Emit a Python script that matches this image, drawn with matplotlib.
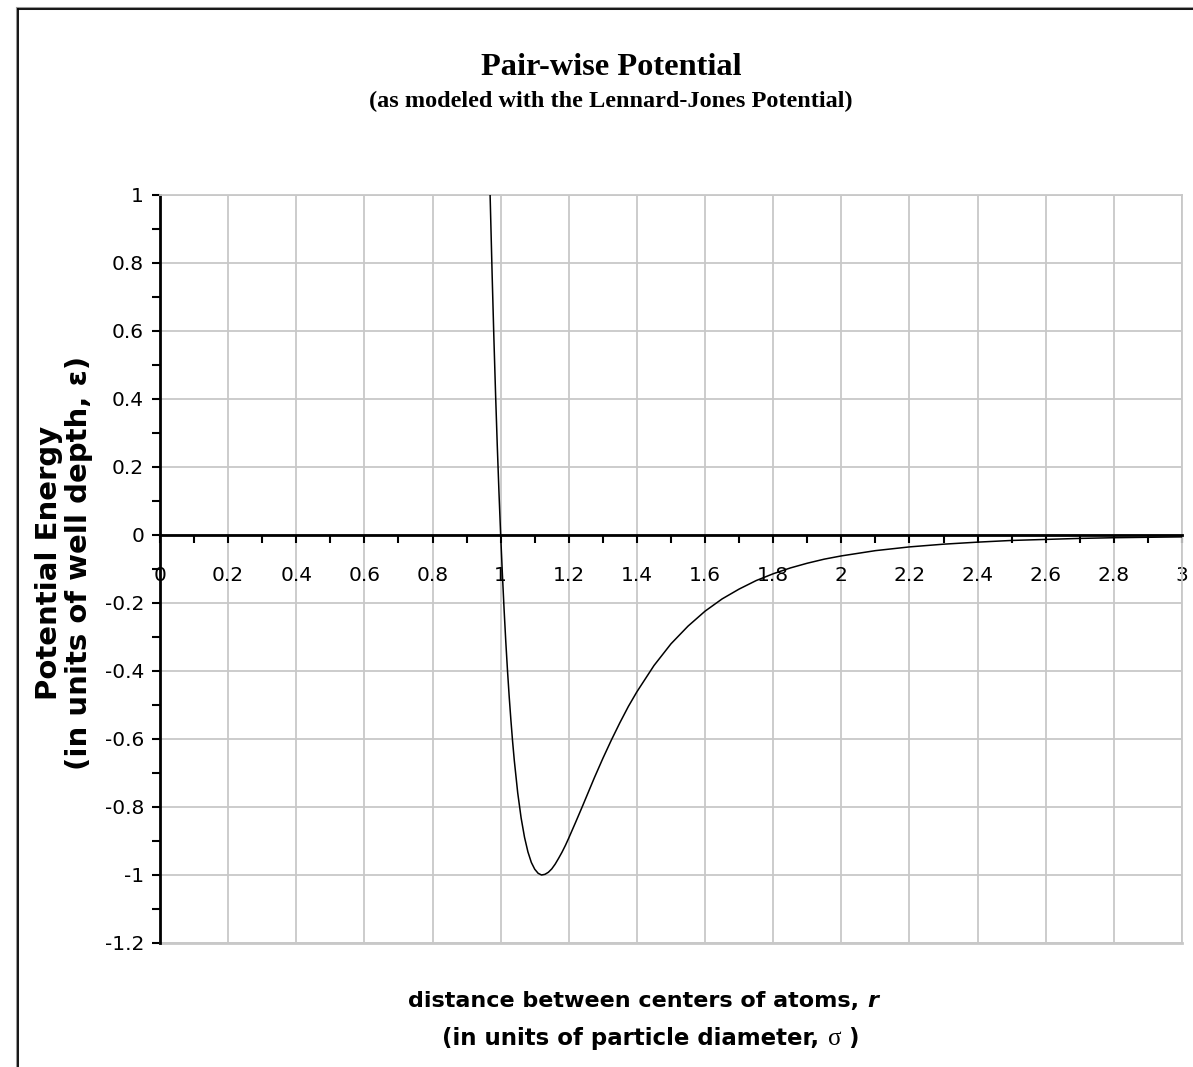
import numpy as np
import matplotlib
matplotlib.use("Agg")
import matplotlib.pyplot as plt
from matplotlib.lines import Line2D
from matplotlib.ticker import MultipleLocator

# values
r_values = [0.969, 0.975, 0.98, 0.985, 0.99, 0.995, 1.00, 1.005, 1.01, 1.015,
            1.02, 1.025, 1.03, 1.035, 1.04, 1.05, 1.06, 1.07, 1.08, 1.09, 1.10,
            1.11, 1.12, 1.13, 1.14, 1.15, 1.16, 1.17, 1.18, 1.19, 1.20, 1.22,
            1.24, 1.25, 1.275, 1.30, 1.325, 1.35, 1.375, 1.40, 1.45, 1.50,
            1.55, 1.60, 1.65, 1.70, 1.75, 1.80, 1.85, 1.90, 1.95, 2.00, 2.10,
            2.20, 2.30, 2.40, 2.50, 2.60, 2.70, 2.80, 2.90, 3.00]
energy_values = [1.00, 0.764, 0.582, 0.416, 0.264, 0.126, 0.0, -0.114, -0.218,
                 -0.313, -0.398, -0.475, -0.544, -0.607, -0.663, -0.758, -0.832,
                 -0.889, -0.932, -0.963, -0.983, -0.995, -1.000, -0.998, -0.992,
                 -0.982, -0.968, -0.951, -0.933, -0.913, -0.891, -0.845, -0.798,
                 -0.774, -0.714, -0.657, -0.603, -0.552, -0.504, -0.461, -0.384,
                 -0.320, -0.268, -0.224, -0.188, -0.159, -0.134, -0.114, -0.097,
                 -0.083, -0.071, -0.0615, -0.046, -0.035, -0.027, -0.021, -0.016,
                 -0.013, -0.010, -0.008, -0.0067, -0.0055]

x_ticks = [0, 0.2, 0.4, 0.6, 0.8, 1, 1.2, 1.4, 1.6, 1.8, 2, 2.2, 2.4, 2.6, 2.8, 3]
x_tick_labels = ["0", "0.2", "0.4", "0.6", "0.8", "1", "1.2", "1.4", "1.6", "1.8",
                 "2", "2.2", "2.4", "2.6", "2.8", "3"]
y_ticks = [1, 0.8, 0.6, 0.4, 0.2, 0, -0.2, -0.4, -0.6, -0.8, -1, -1.2]
y_tick_labels = ["1", "0.8", "0.6", "0.4", "0.2", "0", "-0.2", "-0.4", "-0.6",
                 "-0.8", "-1", "-1.2"]

title = "Pair-wise Potential"
subtitle = "(as modeled with the Lennard-Jones Potential)"

W, H = 1193, 1067
fig = plt.figure(figsize=(W / 100, H / 100), dpi=100)
fig.patch.set_facecolor("white")

def fx(px):
    return px / W

def fy(py):
    return 1 - py / H

# outer border (top and left visible)
fig.add_artist(Line2D([fx(17), fx(17)], [fy(8), 0], color="#999999", lw=2.2, transform=fig.transFigure))
fig.add_artist(Line2D([fx(17), 1], [fy(8), fy(8)], color="#999999", lw=2.2, transform=fig.transFigure))
fig.add_artist(Line2D([fx(18), fx(18)], [fy(9), 0], color="black", lw=1.2, transform=fig.transFigure))
fig.add_artist(Line2D([fx(18), 1], [fy(9), fy(9)], color="black", lw=1.2, transform=fig.transFigure))

left, right, top, bottom = 160, 1182, 195, 943
ax = fig.add_axes([fx(left), fy(bottom), (right - left) / W, (bottom - top) / H])
ax.set_xlim(0, 3)
ax.set_ylim(-1.2, 1)

grid_c = "#c8c8c8"
ax.set_axisbelow(True)
ax.grid(True, which="major", color=grid_c, lw=1.3)

ax.plot(r_values, energy_values, color="black", lw=1.1, zorder=3)

ax.spines["bottom"].set_position(("data", 0))
ax.spines["bottom"].set_color("black")
ax.spines["bottom"].set_linewidth(2.0)
ax.spines["left"].set_color("black")
ax.spines["left"].set_linewidth(2.0)
for s in ("top", "right"):
    ax.spines[s].set_color(grid_c)
    ax.spines[s].set_linewidth(1.3)
ax.axhline(-1.2, color=grid_c, lw=2.0, clip_on=False, zorder=0.6)

ax.set_xticks(x_ticks)
ax.set_xticklabels(x_tick_labels)
ax.set_yticks(y_ticks)
ax.set_yticklabels(y_tick_labels)
ax.xaxis.set_minor_locator(MultipleLocator(0.1))
ax.yaxis.set_minor_locator(MultipleLocator(0.1))

ax.tick_params(axis="x", which="both", direction="out", length=6, width=1.5,
               color="black", labelsize=14.5, pad=16)
ax.tick_params(axis="y", which="both", direction="out", length=5.5, width=1.5,
               color="black", labelsize=14.5, pad=6)
for lab in ax.get_xticklabels() + ax.get_yticklabels():
    lab.set_fontfamily("DejaVu Sans")
    lab.set_color("black")

# titles
fig.text(fx(611), fy(75), title, ha="center", va="baseline",
         family="Liberation Serif", weight="bold", fontsize=23.3)
fig.text(fx(611), fy(107), subtitle, ha="center", va="baseline",
         family="Liberation Serif", weight="bold", fontsize=17.5)

# y label
fig.text(fx(64), fy(563), "Potential Energy\n(in units of well depth, \u03b5)",
         rotation=90, ha="center", va="center", multialignment="center",
         family="DejaVu Sans", weight="bold", fontsize=21, linespacing=1.05)

# x label, line by line with mixed fonts
fig.canvas.draw()
renderer = fig.canvas.get_renderer()

def mixed_line(parts, cx, cy):
    texts = []
    for s, kw in parts:
        t = fig.text(0, fy(cy), s, va="center", ha="left", **kw)
        texts.append(t)
    widths = [t.get_window_extent(renderer).width for t in texts]
    total = sum(widths)
    x0 = cx - total / 2
    for t, w in zip(texts, widths):
        t.set_x(fx(x0))
        x0 += w

bold = dict(family="DejaVu Sans", weight="bold", fontsize=16)
bold2 = dict(family="DejaVu Sans", weight="bold", fontsize=16.5)
mixed_line([("distance between centers of atoms, ", bold),
            ("r", dict(family="DejaVu Sans", weight="bold", style="italic", fontsize=16))],
           643, 1001)
mixed_line([("(in units of particle diameter, ", bold2),
            ("\u03c3", dict(family="Liberation Serif", fontsize=18)),
            (" )", bold2)],
           651, 1039)

fig.savefig("out.png", dpi=100, facecolor="white")
